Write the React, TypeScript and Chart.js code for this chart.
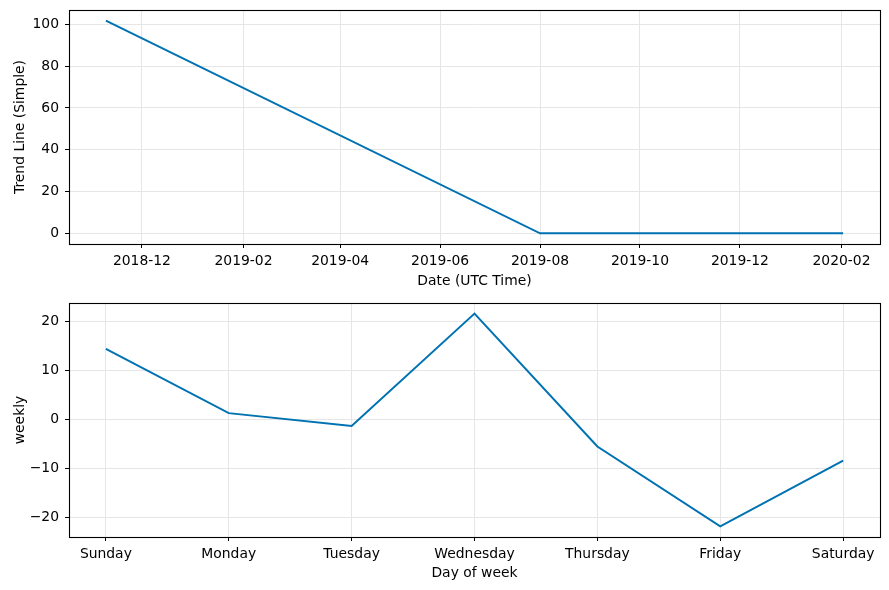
import React, { useEffect, useRef } from "react";
import { Chart, registerables } from "chart.js";

Chart.register(...registerables);

// ---------- data ----------
const trendDates = ["2018-11-09", "2019-08-01", "2020-02-02"];
const trendValues = [101.8, 0, 0];
const trendXTickLabels = ["2018-12", "2019-02", "2019-04", "2019-06", "2019-08", "2019-10", "2019-12", "2020-02"];
const trendYTicks = [0, 20, 40, 60, 80, 100];

const weekDays = ["Sunday", "Monday", "Tuesday", "Wednesday", "Thursday", "Friday", "Saturday"];
const weeklyValues = [14.4, 1.3, -1.3, 21.6, -5.5, -21.8, -8.4];
const weeklyYTicks = [-20, -10, 0, 10, 20];

// ---------- helpers ----------
const DAY = 86400000;
const toDay = (s: string) => Date.parse((s.length === 7 ? s + "-01" : s) + "T00:00:00Z") / DAY;
const fmtNum = (v: number) => (v < 0 ? "\u2212" + Math.abs(v) : String(v));
const margin = (vals: number[], f = 0.05) => {
  const mn = Math.min(...vals), mx = Math.max(...vals);
  const d = (mx - mn) * f;
  return { min: mn - d, max: mx + d };
};

const LINE = "#0072B2";
const GRID = "#e6e6e6";
const FONT = { family: "DejaVu Sans", size: 13.9 };

const framePlugin = {
  id: "frame",
  afterDraw(chart: any) {
    const { ctx, chartArea: a } = chart;
    ctx.save();
    ctx.strokeStyle = "#000";
    ctx.lineWidth = 1.1;
    ctx.strokeRect(Math.round(a.left) + 0.5, Math.round(a.top) + 0.5, Math.round(a.right - a.left), Math.round(a.bottom - a.top));
    ctx.restore();
  },
};

function makeOptions(cfg: {
  xMin: number; xMax: number; xTicks: number[]; xFmt: (v: number) => string; xTitle: string; xHeight: number; titleBottom: number;
  yMin: number; yMax: number; yTicks: number[]; yTitle: string; padTop: number;
}) {
  return {
    responsive: false,
    animation: false as const,
    devicePixelRatio: 1,
    layout: { padding: { top: cfg.padTop, right: 9, bottom: 0, left: 0 } },
    plugins: { legend: { display: false }, tooltip: { enabled: false } },
    elements: { point: { radius: 0 }, line: { tension: 0 } },
    scales: {
      x: {
        type: "linear" as const,
        min: cfg.xMin,
        max: cfg.xMax,
        afterBuildTicks: (s: any) => { s.ticks = cfg.xTicks.map((v) => ({ value: v })); },
        afterFit: (s: any) => { s.height = cfg.xHeight; s.paddingLeft = 0; s.paddingRight = 0; },
        ticks: { color: "#000", font: FONT, padding: 5, maxRotation: 0, autoSkip: false, callback: (v: any) => cfg.xFmt(Number(v)) },
        grid: { color: GRID, lineWidth: 1, tickColor: "#000", tickLength: 4 },
        border: { display: false },
        title: { display: true, text: cfg.xTitle, color: "#000", font: FONT, padding: { top: 0, bottom: cfg.titleBottom } },
      },
      y: {
        type: "linear" as const,
        min: cfg.yMin,
        max: cfg.yMax,
        afterBuildTicks: (s: any) => { s.ticks = cfg.yTicks.map((v) => ({ value: v })); },
        afterFit: (s: any) => { s.width = 69; s.paddingTop = 0; s.paddingBottom = 0; },
        ticks: { color: "#000", font: FONT, padding: 6, callback: (v: any) => fmtNum(Number(v)) },
        grid: { color: GRID, lineWidth: 1, tickColor: "#000", tickLength: 4 },
        border: { display: false },
        title: { display: true, text: cfg.yTitle, color: "#000", font: FONT, padding: { top: 12, bottom: 0 } },
      },
    },
  };
}

export default function App() {
  const topRef = useRef<HTMLCanvasElement>(null);
  const botRef = useRef<HTMLCanvasElement>(null);

  useEffect(() => {
    const tx = trendDates.map(toDay);
    const txr = margin(tx);
    const tyr = margin(trendValues);
    const tickVals = trendXTickLabels.map(toDay);
    const top = new Chart(topRef.current!, {
      type: "line",
      data: {
        datasets: [{
          data: tx.map((x, i) => ({ x, y: trendValues[i] })),
          borderColor: LINE, borderWidth: 2, pointRadius: 0, fill: false,
        }],
      },
      options: makeOptions({
        xMin: txr.min, xMax: txr.max, xTicks: tickVals,
        xFmt: (v) => trendXTickLabels[tickVals.findIndex((t) => Math.abs(t - v) < 0.5)] ?? "",
        xTitle: "Date (UTC Time)", xHeight: 51, titleBottom: 5,
        yMin: tyr.min, yMax: tyr.max, yTicks: trendYTicks, yTitle: "Trend Line (Simple)", padTop: 10,
      }) as any,
      plugins: [framePlugin],
    });

    const wx = weekDays.map((_, i) => i);
    const wxr = margin(wx);
    const wyr = margin(weeklyValues);
    const bot = new Chart(botRef.current!, {
      type: "line",
      data: {
        datasets: [{
          data: wx.map((x, i) => ({ x, y: weeklyValues[i] })),
          borderColor: LINE, borderWidth: 2, pointRadius: 0, fill: false,
        }],
      },
      options: makeOptions({
        xMin: wxr.min, xMax: wxr.max, xTicks: wx,
        xFmt: (v) => weekDays[Math.round(v)] ?? "",
        xTitle: "Day of week", xHeight: 53, titleBottom: 8,
        yMin: wyr.min, yMax: wyr.max, yTicks: weeklyYTicks, yTitle: "weekly", padTop: 8,
      }) as any,
      plugins: [framePlugin],
    });

    return () => { top.destroy(); bot.destroy(); };
  }, []);

  return (
    <div style={{ position: "absolute", left: 0, top: 0, width: 889, height: 590, background: "#fff" }}>
      <canvas ref={topRef} width={889} height={295} style={{ display: "block" }} />
      <canvas ref={botRef} width={889} height={295} style={{ display: "block" }} />
    </div>
  );
}
